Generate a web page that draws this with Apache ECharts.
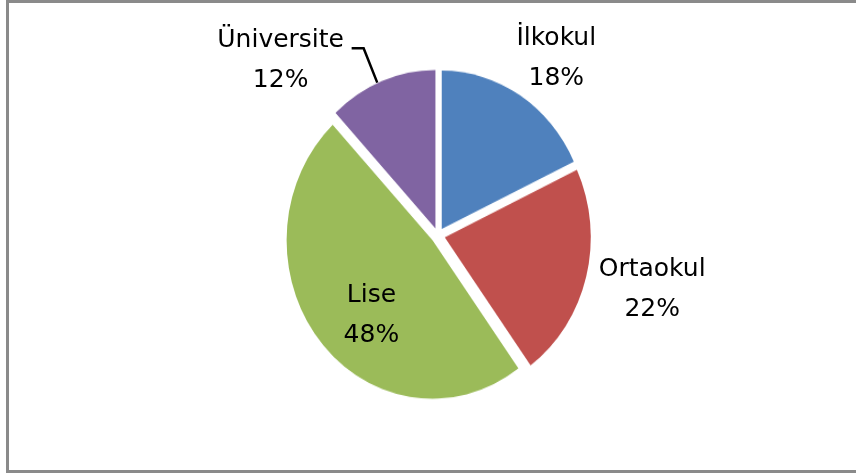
<!DOCTYPE html>
<html>
<head>
<meta charset="utf-8">
<script src="https://cdn.jsdelivr.net/npm/echarts@6/dist/echarts.min.js"></script>
<style>
  html, body { margin: 0; padding: 0; background: #fff; }
  #wrap { position: relative; width: 856px; height: 473px; overflow: hidden; }
  /* the pie in the reference is a little taller than wide, so stretch only the pie layer */
  #pie { position: absolute; left: 0; top: 0; width: 856px; height: 436px; transform: scaleY(1.085); transform-origin: 0 0; }
  #lab { position: absolute; left: 0; top: 0; width: 856px; height: 473px; }
</style>
</head>
<body>
<div id="wrap">
  <div id="pie"></div>
  <div id="lab"></div>
</div>
<script>
// data
const categories = ['İlkokul', 'Ortaokul', 'Lise', 'Üniversite'];
const shares = [18, 22, 48, 12];
const colors = ['#4F81BD', '#C0504D', '#9BBB59', '#8064A2'];

const FONT = 'DejaVu Sans';
const richText = {
  t: { width: 140, align: 'center', fontFamily: FONT, fontSize: 25, lineHeight: 40, color: '#000' }
};

// visible pie (stretched layer)
let pieChart = echarts.init(document.getElementById('pie'));
pieChart.setOption({
  animation: false,
  series: [
    {
      type: 'pie',
      center: [438, 217],
      radius: 146,
      startAngle: 90,
      clockwise: true,
      silent: true,
      selectedMode: 'multiple',
      selectedOffset: 7,
      label: { show: false },
      labelLine: { show: false },
      itemStyle: { borderWidth: 0 },
      select: { itemStyle: { borderWidth: 0 } },
      data: categories.map((name, i) => ({
        name: name,
        value: shares[i],
        selected: true,
        itemStyle: { color: colors[i] },
        select: { itemStyle: { color: colors[i] } }
      }))
    }
  ]
});

// invisible pies that only carry one label each (unstretched layer)
function ghostPie(radius, idx, label, labelLine) {
  return {
    type: 'pie',
    center: [438, 236],
    radius: radius,
    startAngle: 90,
    silent: true,
    selectedMode: 'multiple',
    selectedOffset: 5,
    avoidLabelOverlap: false,
    itemStyle: { color: 'rgba(0,0,0,0)', borderWidth: 0 },
    select: { itemStyle: { color: 'rgba(0,0,0,0)', borderWidth: 0 } },
    label: { show: false },
    labelLine: { show: false },
    data: categories.map((name, i) => ({
      name: name,
      value: shares[i],
      selected: true,
      label: i === idx
        ? Object.assign({
            show: true,
            color: '#000',
            textBorderWidth: 0,
            formatter: '{t|{b}}\n{t|{d}%}',
            rich: richText
          }, label)
        : { show: false },
      labelLine: i === idx && labelLine ? labelLine : { show: false }
    }))
  };
}

let labChart = echarts.init(document.getElementById('lab'));
labChart.setOption({
  animation: false,
  graphic: [
    {
      type: 'rect',
      shape: { x: 7.5, y: 1.5, width: 900, height: 470 },
      style: { fill: 'none', stroke: '#8a8a8a', lineWidth: 3 },
      silent: true
    }
  ],
  series: [
    ghostPie([198, 220], 0, { position: 'inside', padding: [12, 0, 0, 4] }),
    ghostPie([198, 220], 1, { position: 'inside', padding: [0, 0, 0, 8] }),
    ghostPie([0, 188], 2, { position: 'inside', padding: [29, 0, 0, 24] }),
    ghostPie(160, 3,
      { position: 'outside', padding: [24, 0, 0, 0], distanceToLabelLine: 1 },
      { show: true, length: 37, length2: 12, smooth: false, lineStyle: { color: '#000', width: 2.5 } })
  ]
});
</script>
</body>
</html>
